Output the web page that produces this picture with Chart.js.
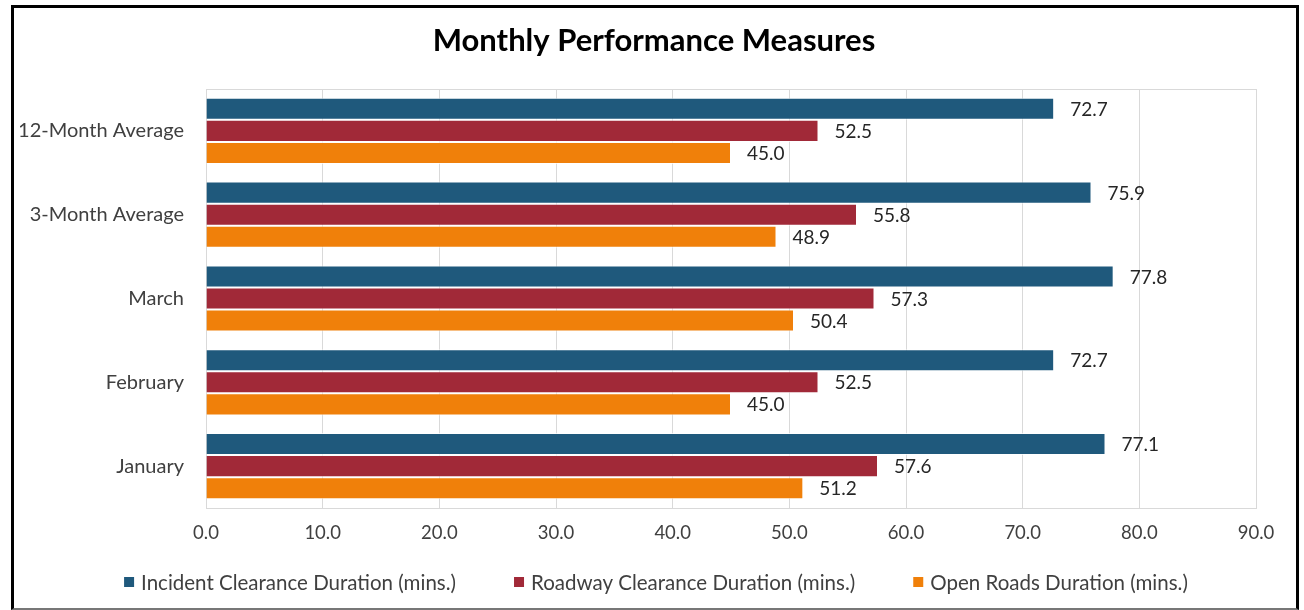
<!DOCTYPE html>
<html>
<head>
<meta charset="utf-8">
<title>Monthly Performance Measures</title>
<script src="https://cdn.jsdelivr.net/npm/chart.js@4.4.1/dist/chart.umd.min.js"></script>
<style>
  html, body { margin: 0; padding: 0; background: #fff; }
  #wrap { position: relative; width: 1304px; height: 610px; }
  #frame {
    position: absolute; left: 11px; top: 5px; width: 1288px; height: 605px;
    box-sizing: border-box; border: 3px solid #000; border-bottom: 2px solid #777;
    pointer-events: none;
  }
  canvas { position: absolute; left: 0; top: 0; }
</style>
</head>
<body>
<div id="wrap">
  <canvas id="myChart" width="1304" height="610"></canvas>
  <div id="frame"></div>
</div>
<script>
"use strict";

const chartTitle = "Monthly Performance Measures";
const categories = ["12-Month Average", "3-Month Average", "March", "February", "January"];
const incidentClearance = [72.7, 75.9, 77.8, 72.7, 77.1];
const roadwayClearance = [52.5, 55.8, 57.3, 52.5, 57.6];
const openRoads = [45.0, 48.9, 50.4, 45.0, 51.2];
const seriesNames = [
  "Incident Clearance Duration (mins.)",
  "Roadway Clearance Duration (mins.)",
  "Open Roads Duration (mins.)"
];
const xMin = 0;
const xMax = 90;
const xStep = 10;

const FONT = "Lato, 'Open Sans', sans-serif";
const colors = ["rgb(31, 89, 124)", "rgb(161, 41, 56)", "rgb(240, 128, 10)"];

// Title centred on the whole frame (Chart.js would centre it between the paddings)
const topTitle = {
  id: "topTitle",
  afterDraw(chart) {
    const ctx = chart.ctx;
    ctx.save();
    ctx.font = "bold 31px " + FONT;
    ctx.fillStyle = "#000";
    ctx.textAlign = "center";
    ctx.textBaseline = "middle";
    ctx.fillText(chartTitle, 654, 41);
    ctx.restore();
  }
};

// Value labels at the end of each bar
const barLabels = {
  id: "barLabels",
  afterDatasetsDraw(chart) {
    const ctx = chart.ctx;
    ctx.save();
    ctx.font = "19px " + FONT;
    ctx.fillStyle = "#262626";
    ctx.textAlign = "left";
    ctx.textBaseline = "middle";
    chart.data.datasets.forEach((ds, i) => {
      chart.getDatasetMeta(i).data.forEach((bar, j) => {
        ctx.fillText(ds.data[j].toFixed(1), bar.x + 16, bar.y + 1);
      });
    });
    ctx.restore();
  }
};

// Gray frame round the plot area
const plotFrame = {
  id: "plotFrame",
  beforeDatasetsDraw(chart) {
    const { left, top, right, bottom } = chart.chartArea;
    const ctx = chart.ctx;
    ctx.save();
    ctx.strokeStyle = "#d9d9d9";
    ctx.lineWidth = 1;
    ctx.strokeRect(left + 0.5, top + 0.5, right - left, bottom - top);
    ctx.restore();
  }
};

// Legend along the bottom, Excel style with wide gaps
const bottomLegend = {
  id: "bottomLegend",
  afterDraw(chart) {
    const ctx = chart.ctx;
    const box = 10, gapText = 7, gapItem = 58, y = 582;
    ctx.save();
    ctx.font = "20.5px " + FONT;
    ctx.textBaseline = "middle";
    ctx.textAlign = "left";
    const items = chart.data.datasets.map(ds => ({
      text: ds.label, color: ds.backgroundColor, w: ctx.measureText(ds.label).width
    }));
    let total = 0;
    items.forEach((it, i) => { total += box + gapText + it.w + (i > 0 ? gapItem : 0); });
    let x = 656 - total / 2;
    items.forEach(it => {
      ctx.fillStyle = it.color;
      ctx.fillRect(x, y - box / 2, box, box);
      ctx.fillStyle = "#404040";
      ctx.fillText(it.text, x + box + gapText, y + 1);
      x += box + gapText + it.w + gapItem;
    });
    ctx.restore();
  }
};

const ctx = document.getElementById("myChart").getContext("2d");

new Chart(ctx, {
  type: "bar",
  data: {
    labels: categories,
    datasets: [
      { label: seriesNames[0], data: incidentClearance, backgroundColor: colors[0] },
      { label: seriesNames[1], data: roadwayClearance, backgroundColor: colors[1] },
      { label: seriesNames[2], data: openRoads, backgroundColor: colors[2] }
    ]
  },
  options: {
    indexAxis: "y",
    responsive: false,
    animation: false,
    datasets: {
      bar: {
        categoryPercentage: 0.79,
        barPercentage: 1.0,
        borderWidth: 1,
        borderColor: "rgba(255, 255, 255, 0.7)"
      }
    },
    layout: {
      padding: { left: 20, right: 48, top: 89, bottom: 50 }
    },
    plugins: {
      legend: { display: false },
      tooltip: { enabled: false },
      title: { display: false }
    },
    scales: {
      x: {
        min: xMin,
        max: xMax,
        ticks: {
          stepSize: xStep,
          padding: 14,
          color: "#404040",
          font: { family: FONT, size: 18.5 },
          callback: v => Number(v).toFixed(1)
        },
        grid: { color: "#d9d9d9", drawTicks: false },
        border: { display: true, color: "#d9d9d9" },
        afterFit(scale) { scale.height = 52; }
      },
      y: {
        ticks: {
          padding: 22,
          color: "#404040",
          font: { family: FONT, size: 20 }
        },
        grid: { display: false, drawTicks: false },
        border: { display: true, color: "#d9d9d9" },
        afterFit(scale) { scale.width = 186; }
      }
    }
  },
  plugins: [plotFrame, barLabels, bottomLegend, topTitle]
});
</script>
</body>
</html>
